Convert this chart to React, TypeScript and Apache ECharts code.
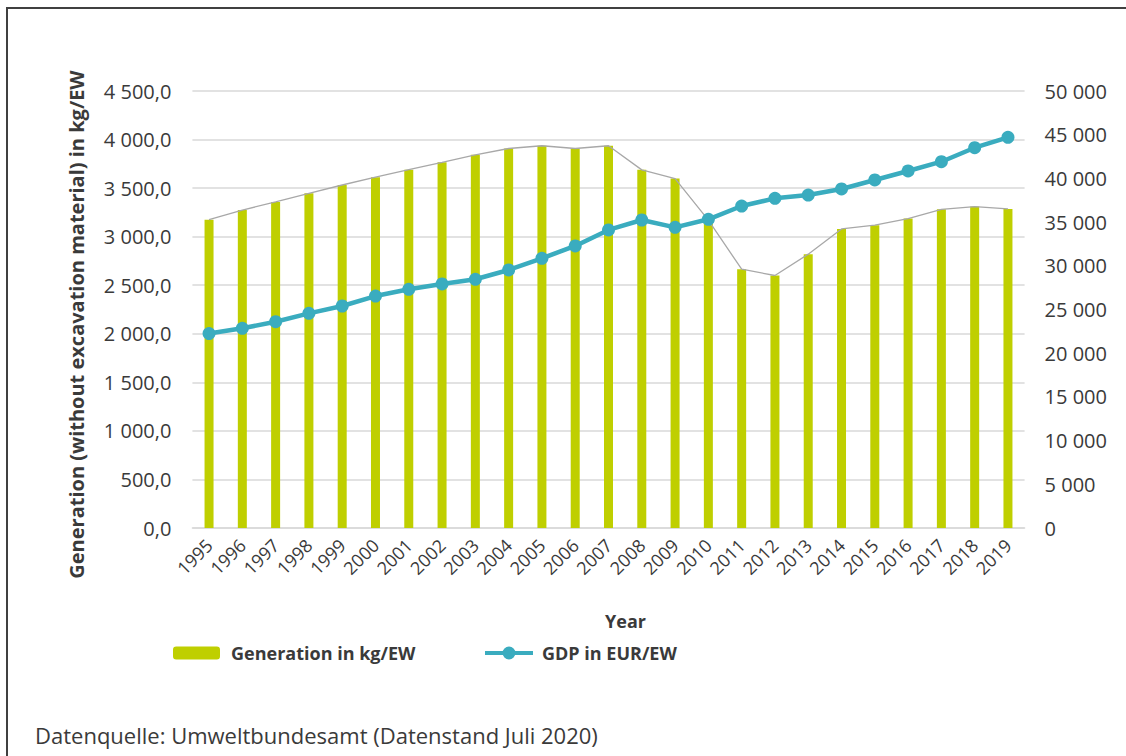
import React, { useEffect, useRef } from "react";
import * as echarts from "echarts";

const years = [
  "1995", "1996", "1997", "1998", "1999", "2000", "2001", "2002", "2003", "2004",
  "2005", "2006", "2007", "2008", "2009", "2010", "2011", "2012", "2013", "2014",
  "2015", "2016", "2017", "2018", "2019",
];

// Construction waste generation (without excavation material), kg per inhabitant
const generationKgPerEW = [
  3175, 3274, 3358, 3447, 3532, 3612, 3690, 3766, 3843, 3908,
  3936, 3908, 3936, 3688, 3598, 3170, 2665, 2600, 2820, 3080,
  3118, 3186, 3282, 3310, 3286,
];

// Gross domestic product, EUR per inhabitant
const gdpEurPerEW = [
  22250, 22850, 23600, 24560, 25400, 26540, 27310, 27920, 28460, 29520,
  30860, 32270, 34100, 35240, 34400, 35320, 36840, 37720, 38100, 38790,
  39820, 40850, 41910, 43510, 44700,
];

const leftTicks = { min: 0, max: 4500, interval: 500 };
const rightTicks = { min: 0, max: 50000, interval: 5000 };

const FONT = "'Open Sans', 'Liberation Sans', sans-serif";
const TEXT = "#3a3a3a";
const BAR = "#bfcf00";
const GDP = "#3aacbf";

// Thick line with a dot in the middle, used as the GDP legend marker
const LINE_DOT_ICON =
  "path://M0,4.5H48V8.5H0Z M17.5,6.5a6.5,6.5 0 1,1 13,0a6.5,6.5 0 1,1 -13,0Z";

const groupThousands = (v: number) =>
  Math.round(v).toString().replace(/\B(?=(\d{3})+(?!\d))/g, " ");

export default function App() {
  const ref = useRef<HTMLDivElement>(null);

  useEffect(() => {
    document.body.style.margin = "0";
    if (!ref.current) return;
    const chart = echarts.init(ref.current, undefined, { renderer: "svg" });

    chart.setOption({
      animation: false,
      backgroundColor: "#ffffff",
      textStyle: { fontFamily: FONT },
      grid: { left: 192.4, right: 101.4, top: 91, bottom: 228, containLabel: false },
      legend: [
        {
          data: ["Generation in kg/EW"],
          left: 168,
          top: 639,
          itemWidth: 47,
          itemHeight: 13,
          itemGap: 18,
          textStyle: { fontFamily: FONT, fontSize: 18, fontWeight: "bold", color: TEXT, padding: [0, 0, 0, 6] },
          selectedMode: false,
        },
        {
          data: [{ name: "GDP in EUR/EW", icon: LINE_DOT_ICON }],
          left: 480,
          top: 639,
          itemWidth: 48,
          itemHeight: 13,
          itemStyle: { color: GDP, borderWidth: 0 },
          textStyle: { fontFamily: FONT, fontSize: 18, fontWeight: "bold", color: TEXT, padding: [0, 0, 0, 4] },
          selectedMode: false,
        },
      ],
      xAxis: {
        type: "category",
        data: years,
        name: "Year",
        nameLocation: "middle",
        nameGap: 84,
        nameTextStyle: {
          fontFamily: FONT,
          fontSize: 18,
          fontWeight: "bold",
          color: TEXT,
          padding: [0, 0, 0, 34],
        },
        axisLine: { lineStyle: { color: "#d9d9d9", width: 1.5 } },
        axisTick: { show: false },
        axisLabel: {
          rotate: 45,
          margin: 14,
          fontFamily: FONT,
          fontSize: 18,
          color: TEXT,
          interval: 0,
        },
      },
      yAxis: [
        {
          type: "value",
          ...leftTicks,
          name: "Generation (without excavation material) in kg/EW",
          nameLocation: "middle",
          nameGap: 106,
          nameTextStyle: {
            fontFamily: FONT,
            fontSize: 20,
            fontWeight: "bold",
            color: TEXT,
            padding: [0, 30, 0, 0],
          },
          axisLine: { show: false },
          axisTick: { show: false },
          splitLine: { lineStyle: { color: "#d9d9d9", width: 1.5 } },
          axisLabel: {
            margin: 21,
            fontFamily: FONT,
            fontSize: 20,
            color: TEXT,
            formatter: (v: number) => groupThousands(v) + ",0",
          },
        },
        {
          type: "value",
          ...rightTicks,
          position: "right",
          axisLine: { show: false },
          axisTick: { show: false },
          splitLine: { show: false },
          axisLabel: {
            margin: 20,
            fontFamily: FONT,
            fontSize: 20,
            color: TEXT,
            formatter: (v: number) => groupThousands(v),
          },
        },
      ],
      series: [
        {
          name: "Generation in kg/EW",
          type: "bar",
          yAxisIndex: 0,
          data: generationKgPerEW,
          barWidth: 9,
          itemStyle: { color: BAR },
          z: 2,
        },
        {
          name: "Generation trend",
          type: "line",
          yAxisIndex: 0,
          data: generationKgPerEW,
          showSymbol: false,
          symbol: "none",
          lineStyle: { color: "#a8a8a8", width: 1.3 },
          z: 3,
        },
        {
          name: "GDP in EUR/EW",
          type: "line",
          yAxisIndex: 1,
          data: gdpEurPerEW,
          symbol: "circle",
          symbolSize: 13,
          itemStyle: { color: GDP },
          lineStyle: { color: GDP, width: 4.5 },
          z: 4,
        },
      ],
      graphic: [
        {
          type: "rect",
          shape: { x: 7, y: 8, width: 1140, height: 780 },
          style: { fill: "none", stroke: "#404040", lineWidth: 2 },
          silent: true,
        },
        {
          type: "text",
          left: 35,
          top: 724,
          style: {
            text: "Datenquelle: Umweltbundesamt (Datenstand Juli 2020)",
            fontFamily: FONT,
            fontSize: 22,
            fill: TEXT,
          },
        },
      ],
    });

    return () => chart.dispose();
  }, []);

  return <div ref={ref} style={{ width: 1126, height: 756 }} />;
}
